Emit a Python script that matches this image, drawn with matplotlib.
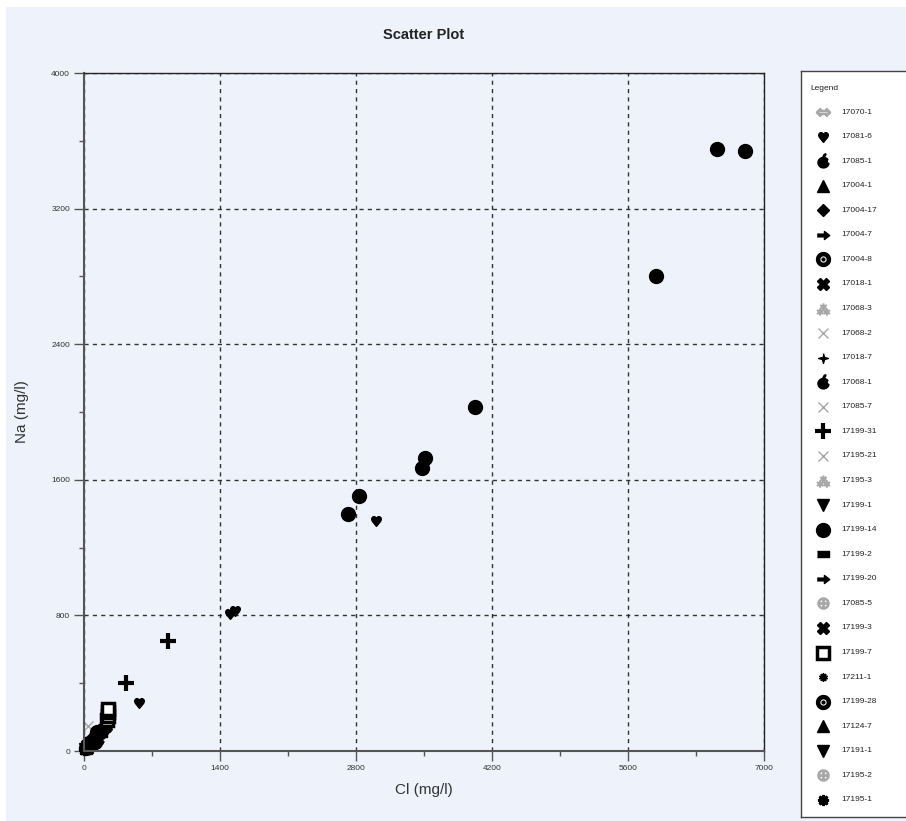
import numpy as np
import matplotlib
matplotlib.use("Agg")
import matplotlib.pyplot as plt
from matplotlib.path import Path
from matplotlib.patches import Rectangle

plt.rcParams['font.family'] = ['Liberation Sans', 'DejaVu Sans']

# --- data: Cl vs Na (mg/l) per sample ---
labels = ['17070-1', '17081-6', '17085-1', '17004-1', '17004-17', '17004-7',
          '17004-8', '17018-1', '17068-3', '17068-2', '17018-7', '17068-1',
          '17085-7', '17199-31', '17195-21', '17195-3', '17199-1', '17199-14',
          '17199-2', '17199-20', '17085-5', '17199-3', '17199-7', '17211-1',
          '17199-28', '17124-7', '17191-1', '17195-2', '17195-1']

cl_17070_1 = [55, 80]
na_17070_1 = [40, 60]
cl_17081_6 = [3010, 1505, 1555, 565, 110, 150]
na_17081_6 = [1355, 810, 825, 285, 80, 95]
cl_17085_1 = [60, 95, 130, 170]
na_17085_1 = [45, 70, 95, 110]
cl_17004_1 = [20, 35, 55]
na_17004_1 = [15, 25, 50]
cl_17004_17 = [30, 50, 80]
na_17004_17 = [20, 38, 45]
cl_17004_7 = [45, 70, 105]
na_17004_7 = [30, 50, 60]
cl_17004_8 = [25, 40, 65]
na_17004_8 = [18, 30, 35]
cl_17018_1 = [110, 150, 190]
na_17018_1 = [80, 105, 125]
cl_17068_3 = [90, 140]
na_17068_3 = [70, 100]
cl_17068_2 = [40, 120]
na_17068_2 = [150, 90]
cl_17018_7 = [15, 30, 200]
na_17018_7 = [10, 20, 145]
cl_17068_1 = [70, 100, 140]
na_17068_1 = [50, 75, 70]
cl_17085_7 = [130, 170]
na_17085_7 = [95, 120]
cl_17199_31 = [430, 860, 120]
na_17199_31 = [400, 650, 85]
cl_17195_21 = [150, 200]
na_17195_21 = [100, 130]
cl_17195_3 = [160, 210]
na_17195_3 = [110, 140]
cl_17199_1 = [35, 65, 95]
na_17199_1 = [25, 45, 40]
cl_17199_14 = [2720, 2830, 3480, 3510, 4025, 5890, 6520, 6805, 90, 130]
na_17199_14 = [1400, 1505, 1670, 1730, 2030, 2800, 3550, 3540, 60, 110]
cl_17199_2 = [80, 120, 175]
na_17199_2 = [60, 85, 100]
cl_17199_20 = [90, 140, 210]
na_17199_20 = [65, 95, 120]
cl_17085_5 = [50, 75]
na_17085_5 = [40, 55]
cl_17199_3 = [120, 180, 225]
na_17199_3 = [90, 120, 150]
cl_17199_7 = [240, 244, 246, 249]
na_17199_7 = [185, 205, 230, 250]
cl_17211_1 = [10, 25, 50]
na_17211_1 = [8, 15, 20]
cl_17199_28 = [60, 85, 115]
na_17199_28 = [40, 60, 55]
cl_17124_7 = [75, 110, 160]
na_17124_7 = [55, 80, 130]
cl_17191_1 = [15, 40, 70]
na_17191_1 = [12, 28, 30]
cl_17195_2 = [100, 130]
na_17195_2 = [70, 90]
cl_17195_1 = [5, 20, 45]
na_17195_1 = [5, 12, 35]

cl_series = [cl_17070_1, cl_17081_6, cl_17085_1, cl_17004_1, cl_17004_17, cl_17004_7,
             cl_17004_8, cl_17018_1, cl_17068_3, cl_17068_2, cl_17018_7, cl_17068_1,
             cl_17085_7, cl_17199_31, cl_17195_21, cl_17195_3, cl_17199_1, cl_17199_14,
             cl_17199_2, cl_17199_20, cl_17085_5, cl_17199_3, cl_17199_7, cl_17211_1,
             cl_17199_28, cl_17124_7, cl_17191_1, cl_17195_2, cl_17195_1]
na_series = [na_17070_1, na_17081_6, na_17085_1, na_17004_1, na_17004_17, na_17004_7,
             na_17004_8, na_17018_1, na_17068_3, na_17068_2, na_17018_7, na_17068_1,
             na_17085_7, na_17199_31, na_17195_21, na_17195_3, na_17199_1, na_17199_14,
             na_17199_2, na_17199_20, na_17085_5, na_17199_3, na_17199_7, na_17211_1,
             na_17199_28, na_17124_7, na_17191_1, na_17195_2, na_17195_1]


# --- custom marker shapes ---
def ring(r, n=48, ccw=True):
    t = np.linspace(0, 2 * np.pi, n, endpoint=False)
    if not ccw:
        t = t[::-1]
    return np.column_stack([r * np.cos(t), r * np.sin(t)])


def poly_path(polys):
    verts, codes = [], []
    for p in polys:
        verts += list(map(tuple, p)) + [tuple(p[0])]
        codes += [Path.MOVETO] + [Path.LINETO] * (len(p) - 1) + [Path.CLOSEPOLY]
    return Path(verts, codes)


def apple_path():
    t = np.linspace(0, 2 * np.pi, 120, endpoint=False)
    body = np.column_stack([0.95 * np.cos(t), 0.9 * np.sin(t) - 0.2])
    bc, br = np.array([1.05, 0.05]), 0.42
    keep = np.hypot(*(body - bc).T) > br
    s = np.linspace(0, 2 * np.pi, 80, endpoint=False)
    bite = np.column_stack([bc[0] + br * np.cos(s), bc[1] + br * np.sin(s)])
    inside = (bite[:, 0] / 0.95) ** 2 + ((bite[:, 1] + 0.2) / 0.9) ** 2 < 1
    pts = np.vstack([body[keep], bite[inside]])
    ang = np.arctan2(pts[:, 1] + 0.2, pts[:, 0])
    pts = pts[np.argsort(ang)]
    u = np.linspace(0, 2 * np.pi, 30, endpoint=False)
    leaf = np.column_stack([0.14 * np.cos(u), 0.32 * np.sin(u)])
    rot = np.deg2rad(-40)
    R = np.array([[np.cos(rot), -np.sin(rot)], [np.sin(rot), np.cos(rot)]])
    leaf = leaf @ R.T + [0.18, 1.05]
    return poly_path([pts, leaf])


arrow_m = [(-1, 0.22), (0.15, 0.22), (0.15, 0.65), (1, 0), (0.15, -0.65),
           (0.15, -0.22), (-1, -0.22)]
star4_m = [(0, 1), (0.22, 0.22), (1, 0), (0.22, -0.22), (0, -1), (-0.22, -0.22),
           (-1, 0), (-0.22, 0.22)]
dash_m = [(-1, -0.45), (1, -0.45), (1, 0.45), (-1, 0.45)]
bull_m = poly_path([ring(1.0), ring(0.55, ccw=False), ring(0.2)])
apple_m = apple_path()

BLK = '#000000'
GRY = '#a8a8a8'
styles = [
    dict(marker='$\u21D4$', ms=10, color=GRY),
    dict(marker='$\u2665$', ms=7, color=BLK),
    dict(marker=apple_m, ms=11, color=BLK),
    dict(marker='^', ms=9, color=BLK),
    dict(marker='D', ms=6.5, color=BLK),
    dict(marker=arrow_m, ms=9, color=BLK),
    dict(marker=bull_m, ms=10, color=BLK),
    dict(marker='X', ms=8.5, color=BLK),
    dict(marker='$\u2042$', ms=9, color=GRY),
    dict(marker='x', ms=7, color=GRY, mew=1),
    dict(marker=star4_m, ms=7, color=BLK),
    dict(marker=apple_m, ms=11, color=BLK),
    dict(marker='x', ms=7, color=GRY, mew=1),
    dict(marker='+', ms=11, color=BLK, mew=3),
    dict(marker='x', ms=7, color=GRY, mew=1),
    dict(marker='$\u2042$', ms=9, color=GRY),
    dict(marker='v', ms=9, color=BLK),
    dict(marker='o', ms=10, color=BLK),
    dict(marker=dash_m, ms=9, color=BLK),
    dict(marker=arrow_m, ms=9, color=BLK),
    dict(marker='$\u2295$', ms=8, color=GRY),
    dict(marker='X', ms=8.5, color=BLK),
    dict(marker='s', ms=8.5, color=BLK, mfc='white', mew=2.5),
    dict(marker=(10, 1, 0), ms=6, color=BLK),
    dict(marker=bull_m, ms=10, color=BLK),
    dict(marker='^', ms=9, color=BLK),
    dict(marker='v', ms=9, color=BLK),
    dict(marker='$\u2295$', ms=8, color=GRY),
    dict(marker=(8, 2, 0), ms=8, color=BLK, mew=2),
]

PANEL = '#eef2fa'
fig = plt.figure(figsize=(9.06, 8.21), dpi=100, facecolor='white')
fig.patches.append(Rectangle((6 / 906, 0), 1, 1 - 7 / 821, transform=fig.transFigure,
                             facecolor=PANEL, edgecolor='none', zorder=-10))

ax = fig.add_axes([84 / 906, 1 - 751 / 821, 680 / 906, 678 / 821])
ax.set_facecolor(PANEL)

for cl, na, st in zip(cl_series, na_series, styles):
    st = dict(st)
    c = st.pop('color')
    z = 2 if c == BLK else 1.5
    ax.plot(cl, na, linestyle='none', color=c, mec=c, **({'mfc': c} | st),
            clip_on=False, zorder=z)

ax.set_xlim(0, 7000)
ax.set_ylim(0, 4000)
ax.set_xticks(np.arange(0, 7001, 1400))
ax.set_yticks(np.arange(0, 4001, 800))
ax.set_xticks(np.arange(700, 7000, 1400), minor=True)
ax.set_yticks(np.arange(400, 4000, 800), minor=True)
ax.grid(True, which='major', linestyle=(0, (3, 3)), color='#333333', linewidth=1)
ax.tick_params(which='major', length=7, width=1, color='#555555', labelsize=6,
               labelcolor='#333333', pad=3)
ax.tick_params(which='minor', length=3.5, width=1, color='#555555')
for side in ('left', 'bottom'):
    ax.spines[side].set_color('#555555')
    ax.spines[side].set_linewidth(1.5)
for side in ('top', 'right'):
    ax.spines[side].set_color('#222222')
    ax.spines[side].set_linewidth(1)

ax.set_xlabel('Cl (mg/l)', fontsize=11, color='#333333', labelpad=8)
ax.set_ylabel('Na (mg/l)', fontsize=11, color='#333333', labelpad=16)
fig.text(424 / 906, 1 - 35 / 821, 'Scatter Plot', ha='center', va='center',
         fontsize=10.5, fontweight='bold', color='#222222')

# legend panel on the right
lax = fig.add_axes([801 / 906, 1 - 817 / 821, 110 / 906, 746 / 821])
lax.set_xlim(801, 911)
lax.set_ylim(817, 71)
lax.set_facecolor('white')
for side in lax.spines.values():
    side.set_color('#444444')
    side.set_linewidth(1)
lax.set_xticks([])
lax.set_yticks([])
lax.text(810, 88, 'Legend', fontsize=6, va='center', ha='left', color='#222222')
for i, (lab, st) in enumerate(zip(labels, styles)):
    y = 112 + i * 24.57
    st = dict(st)
    c = st.pop('color')
    lax.plot([823], [y], linestyle='none', color=c, mec=c, **({'mfc': c} | st))
    lax.text(841, y, lab, fontsize=6, va='center', ha='left', color='#222222')

fig.savefig('out.png', dpi=100, facecolor='white')
